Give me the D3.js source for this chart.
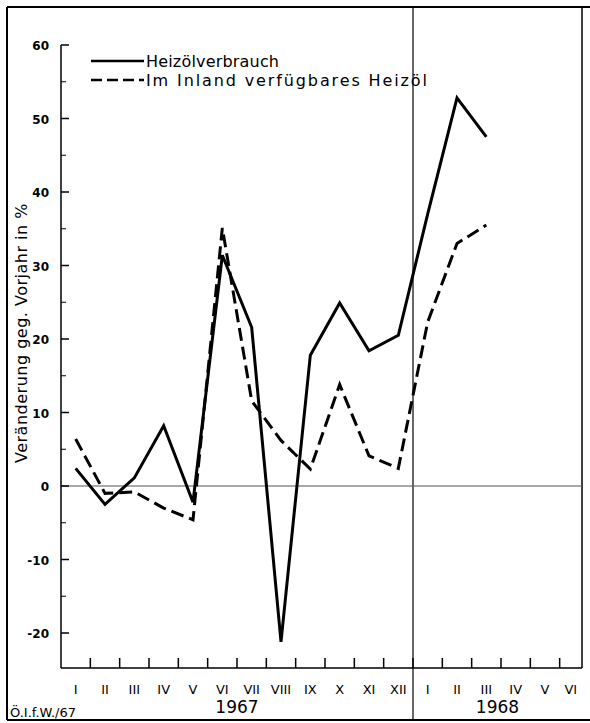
<!DOCTYPE html>
<html><head><meta charset="utf-8">
<script src="https://cdn.jsdelivr.net/npm/d3@7"></script>
<style>body{margin:0;background:#fff}svg{display:block}text{font-family:"DejaVu Sans",sans-serif;fill:#000}</style>
</head><body><svg id="c" width="590" height="723"></svg>
<script>
const months = ["I","II","III","IV","V","VI","VII","VIII","IX","X","XI","XII","I ","II ","III ","IV ","V ","VI "];
const monthLabels = ["I","II","III","IV","V","VI","VII","VIII","IX","X","XI","XII","I","II","III","IV","V","VI"];
const years = ["1967","1968"];
const yTicks = [-20,-10,0,10,20,30,40,50,60];
const yMinor = [-15,-5,5,15,25,35,45,55];
const seriesNames = ["Heizölverbrauch","Im Inland verfügbares Heizöl"];
const verbrauch = [2.4,-2.5,1.1,8.2,-2.2,31.4,21.6,-21.2,17.8,24.9,18.4,20.5,37,52.8,47.5];
const verfuegbar = [6.4,-1.0,-0.8,-3.0,-4.6,35.1,11.6,6.2,2.3,13.8,4.1,2.4,22.3,33.0,35.5];

const svg = d3.select("#c");
const left = 61, bottom = 668, rightEdge = 582;
const x = d3.scaleBand().domain(months).range([left, 589]);
const y = d3.scaleLinear().domain([-20, 60]).range([633, 45]);

// frame
svg.append("line").attr("x1",7).attr("x2",590).attr("y1",7).attr("y2",7).attr("stroke","#000").attr("stroke-width",2);
svg.append("line").attr("x1",7).attr("x2",590).attr("y1",720).attr("y2",720).attr("stroke","#000").attr("stroke-width",2);
svg.append("line").attr("x1",7).attr("x2",7).attr("y1",7).attr("y2",720).attr("stroke","#000").attr("stroke-width",2);
svg.append("line").attr("x1",rightEdge).attr("x2",rightEdge).attr("y1",7).attr("y2",bottom).attr("stroke","#000").attr("stroke-width",1.5);
const divX = x(months[12]);
svg.append("line").attr("x1",divX).attr("x2",divX).attr("y1",7).attr("y2",720).attr("stroke","#000").attr("stroke-width",1.2);

// zero line
svg.append("line").attr("x1",left).attr("x2",rightEdge).attr("y1",y(0)).attr("y2",y(0)).attr("stroke","#555").attr("stroke-width",1.2);

// y axis
svg.append("line").attr("x1",left).attr("x2",left).attr("y1",y(60)).attr("y2",bottom).attr("stroke","#000").attr("stroke-width",1.5);
svg.selectAll(".yt").data(yTicks).join("line").attr("x1",left).attr("x2",left+8)
  .attr("y1",d=>y(d)).attr("y2",d=>y(d)).attr("stroke","#000").attr("stroke-width",1.5);
svg.selectAll(".ym").data(yMinor).join("line").attr("x1",left).attr("x2",left+5)
  .attr("y1",d=>y(d)).attr("y2",d=>y(d)).attr("stroke","#000").attr("stroke-width",1);
svg.selectAll(".yl").data(yTicks).join("text").attr("x",49).attr("y",d=>y(d)+5)
  .attr("text-anchor","end").attr("font-size",12).attr("font-weight","bold").text(d=>d);

// x axis
svg.append("line").attr("x1",left).attr("x2",rightEdge).attr("y1",bottom).attr("y2",bottom).attr("stroke","#000").attr("stroke-width",1.5);
svg.selectAll(".xt").data(months.slice(1)).join("line").attr("x1",d=>x(d)).attr("x2",d=>x(d))
  .attr("y1",bottom).attr("y2",bottom-10).attr("stroke","#000").attr("stroke-width",1.5);
svg.selectAll(".xl").data(months).join("text")
  .attr("x",d=>(x(d)+Math.min(x(d)+x.bandwidth(), rightEdge))/2).attr("y",694)
  .attr("text-anchor","middle").attr("font-size",13).text((d,i)=>monthLabels[i]);
svg.append("text").attr("x",(x(months[0])+x(months[12]))/2).attr("y",713).attr("text-anchor","middle").attr("font-size",17).text(years[0]);
svg.append("text").attr("x",(x(months[12])+rightEdge)/2).attr("y",713).attr("text-anchor","middle").attr("font-size",17).text(years[1]);
svg.append("text").attr("x",10).attr("y",717).attr("font-size",13).text("Ö.I.f.W./67");

// y label
svg.append("text").attr("transform","translate(27,333) rotate(-90)").attr("text-anchor","middle")
  .attr("font-size",16).attr("letter-spacing",0.5).text("Veränderung geg. Vorjahr in %");

// lines
const line = d3.line().x((d,i)=>x(months[i])+x.bandwidth()/2).y(d=>y(d));
svg.append("path").attr("d",line(verbrauch)).attr("fill","none").attr("stroke","#000").attr("stroke-width",3).attr("stroke-linejoin","miter");
svg.append("path").attr("d",line(verfuegbar)).attr("fill","none").attr("stroke","#000").attr("stroke-width",3)
  .attr("stroke-dasharray","13,6");

// legend
svg.append("line").attr("x1",91).attr("x2",144).attr("y1",61).attr("y2",61).attr("stroke","#000").attr("stroke-width",2.5);
svg.append("line").attr("x1",91).attr("x2",144).attr("y1",80).attr("y2",80).attr("stroke","#000").attr("stroke-width",2.5).attr("stroke-dasharray","11,5");
svg.append("text").attr("x",146).attr("y",67).attr("font-size",16).attr("textLength",133).attr("lengthAdjust","spacing").text(seriesNames[0]);
svg.append("text").attr("x",146).attr("y",86).attr("font-size",16).attr("textLength",281).attr("lengthAdjust","spacing").text(seriesNames[1]);
</script></body></html>
